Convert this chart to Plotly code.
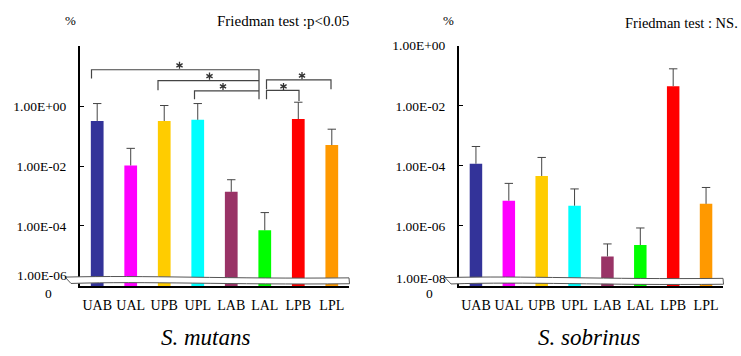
import math
import plotly.graph_objects as go

W, H = 741, 356

categories = ["UAB", "UAL", "UPB", "UPL", "LAB", "LAL", "LPB", "LPL"]
colors = ["#333399", "#FF00FF", "#FFCC00", "#00FFFF", "#993366", "#00FF00", "#FF0000", "#FF9900"]

mutans_mean = [0.32, 0.0105, 0.32, 0.35, 0.00138, 7.2e-5, 0.37, 0.050]
mutans_upper = [1.22, 0.039, 1.05, 1.22, 0.0035, 2.8e-4, 1.35, 0.17]
sobrinus_mean = [1.17e-4, 6.9e-6, 4.6e-5, 4.7e-6, 9.6e-8, 2.3e-7, 0.045, 5.4e-6]
sobrinus_upper = [4.4e-4, 2.6e-5, 1.9e-4, 1.7e-5, 2.5e-7, 8.5e-7, 0.17, 1.9e-5]

mutans_ticks = [1, 1e-2, 1e-4]
mutans_ticktext = ["1.00E+00", "1.00E-02", "1.00E-04"]
sobrinus_ticks = [1, 1e-2, 1e-4, 1e-6]
sobrinus_ticktext = ["1.00E+00", "1.00E-02", "1.00E-04", "1.00E-06"]

FONT = "Liberation Serif"
ERR = "#444444"


def px(x):
    return x / W


def py(y):
    return 1 - y / H


fig = go.Figure()

for means, uppers, xa, ya in [(mutans_mean, mutans_upper, "x", "y"),
                              (sobrinus_mean, sobrinus_upper, "x2", "y2")]:
    fig.add_trace(go.Bar(x=categories, y=means, marker=dict(color=colors, line=dict(width=0)),
                         width=0.38, xaxis=xa, yaxis=ya, showlegend=False))
    ex, ey = [], []
    for c, m, u in zip(categories, means, uppers):
        ex += [c, c, None]
        ey += [m, u, None]
    fig.add_trace(go.Scatter(x=ex, y=ey, mode="lines", line=dict(color=ERR, width=1),
                             xaxis=xa, yaxis=ya, showlegend=False, hoverinfo="skip"))
    fig.add_trace(go.Scatter(x=categories, y=uppers, mode="markers",
                             marker=dict(symbol="line-ew", size=6, line=dict(width=1, color=ERR)),
                             xaxis=xa, yaxis=ya, showlegend=False, hoverinfo="skip"))

xcommon = dict(type="category", showline=True, linecolor="black", linewidth=2, ticks="",
               tickfont=dict(family=FONT, size=14, color="black"), ticklabelstandoff=5,
               showgrid=False, zeroline=False)
ycommon = dict(type="log", showline=True, linecolor="black", linewidth=2, ticks="inside",
               ticklen=4, tickwidth=1, tickcolor="black",
               tickfont=dict(family=FONT, size=13.5, color="black"), ticklabelstandoff=9,
               showgrid=False, zeroline=False)

fig.update_layout(
    width=W, height=H, margin=dict(l=0, r=0, t=0, b=0),
    paper_bgcolor="white", plot_bgcolor="white",
    xaxis=dict(domain=[px(80), px(349)], anchor="y", **xcommon),
    yaxis=dict(domain=[py(284.5), py(40)], anchor="x", range=[-6, 2],
               tickvals=mutans_ticks, ticktext=mutans_ticktext, **ycommon),
    xaxis2=dict(domain=[px(459), px(723)], anchor="y2", **xcommon),
    yaxis2=dict(domain=[py(284.5), py(39.5)], anchor="x2", range=[-8, 0],
                tickvals=sobrinus_ticks, ticktext=sobrinus_ticktext, **ycommon),
    bargap=0.6,
)

# broken-axis bands
def band(x0, x1, yt):
    pts = (f"M {px(x0)},{py(yt)} "
           f"C {px(x0 + 80)},{py(yt - 2)} {px(x1 - 120)},{py(yt + 2)} {px(x1)},{py(yt + 0.8)} "
           f"L {px(x1 + 0.5)},{py(yt + 6.8)} "
           f"C {px(x1 - 120)},{py(yt + 8)} {px(x0 + 80)},{py(yt + 4)} {px(x0 + 6)},{py(yt + 6.5)} Z")
    return dict(type="path", xref="paper", yref="paper", path=pts, fillcolor="white",
                line=dict(color="#555555", width=1), layer="above")

fig.add_shape(band(65, 349, 275.5))
fig.add_shape(band(445, 723, 276))

# significance brackets (pixel positions)
BR = "#444444"
brackets = [
    [(91.5, 73), (91.5, 64), (259, 64), (259, 94)],
    [(158, 85), (158, 75), (259, 75)],
    [(194.5, 94), (194.5, 85.5), (259, 85.5)],
    [(266.5, 84), (266.5, 74.3), (331, 74.3), (331, 84)],
    [(266.5, 94), (266.5, 85), (299, 85), (299, 96)],
]
for br in brackets:
    path = "M " + " L ".join(f"{px(x)},{py(y)}" for x, y in br)
    fig.add_shape(type="path", xref="paper", yref="paper", path=path,
                  line=dict(color=BR, width=1.2))

# asterisks drawn as six-spoke stars
stars = [(179.5, 59.5), (209.5, 70.5), (223, 81), (302, 70), (283.5, 81)]
R = 3.6
for x, y in stars:
    segs = []
    for ang in (90, 30, 150):
        dx = R * math.cos(math.radians(ang))
        dy = R * math.sin(math.radians(ang))
        segs.append(f"M {px(x - dx)},{py(y - dy)} L {px(x + dx)},{py(y + dy)}")
    fig.add_shape(type="path", xref="paper", yref="paper", path=" ".join(segs),
                  line=dict(color="#333333", width=1.3))

# texts
def txt(x, y, s, size=12.5, xanchor="center", italic=False):
    fig.add_annotation(x=px(x), y=py(y), xref="paper", yref="paper",
                       text=f"<i>{s}</i>" if italic else s, showarrow=False,
                       xanchor=xanchor, yanchor="middle",
                       font=dict(family=FONT, size=size, color="black"))

txt(70, 14, "%", size=13)
txt(449, 14, "%", size=13)
txt(351, 14, "Friedman test :p&lt;0.05", size=15, xanchor="right")
txt(740, 16, "Friedman test : NS.", size=14.5, xanchor="right")
txt(69, 273.5, "1.00E-06", size=13.5, xanchor="right")
txt(448, 277, "1.00E-08", size=13.5, xanchor="right")
txt(48, 292, "0", size=13.5)
txt(429, 292, "0", size=13.5)
txt(206, 337, "S. mutans", size=23, italic=True)
txt(589, 337, "S. sobrinus", size=23, italic=True)

fig.write_html("out.html", config={"displayModeBar": False},
               post_script="document.body.style.margin='0';document.body.style.padding='0';")
